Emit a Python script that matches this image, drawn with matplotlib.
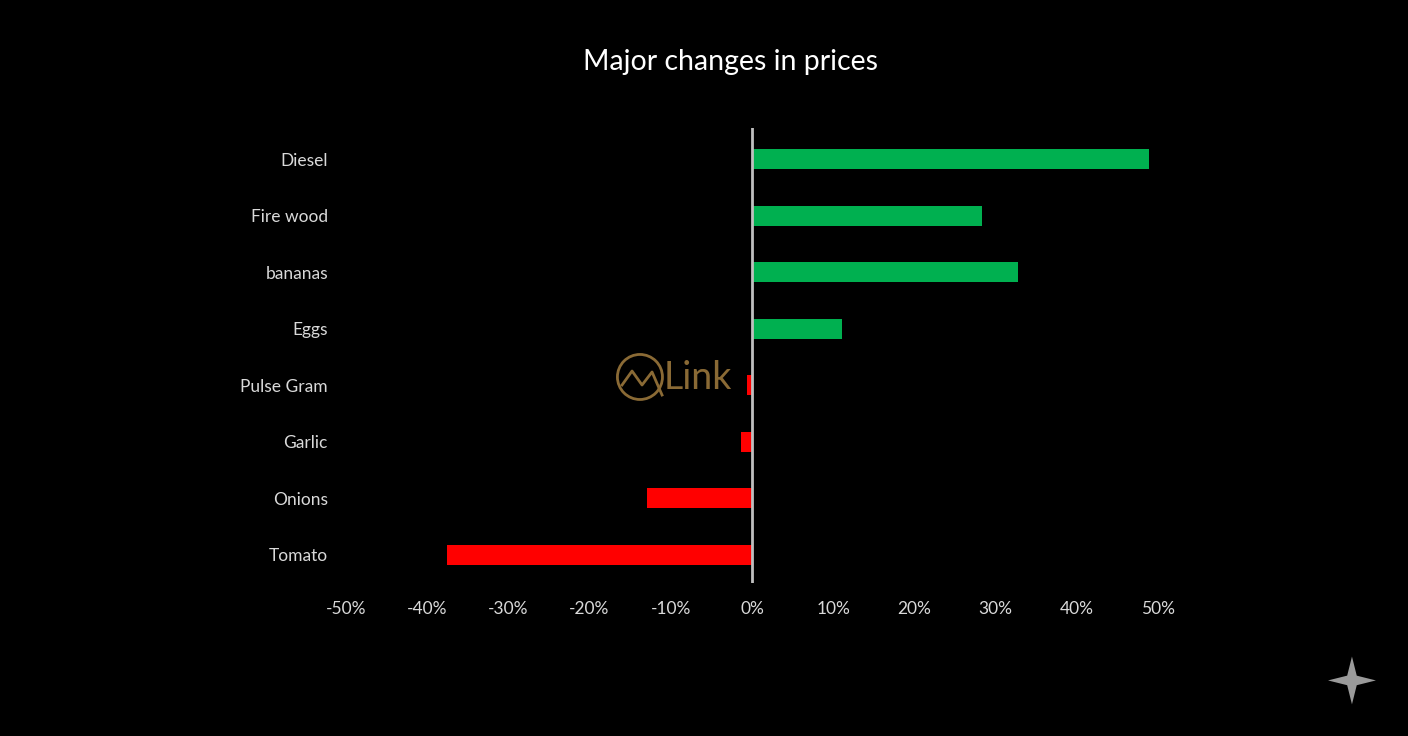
import matplotlib.pyplot as plt
from matplotlib.patches import Ellipse, Polygon
from matplotlib.ticker import FuncFormatter

plt.rcParams['font.family'] = ['Lato', 'DejaVu Sans']

items = ["Diesel", "Fire wood", "bananas", "Eggs", "Pulse Gram", "Garlic", "Onions", "Tomato"]
changes = [48.9, 28.3, 32.8, 11.1, -0.6, -1.4, -12.9, -37.6]
ticks = [-50, -40, -30, -20, -10, 0, 10, 20, 30, 40, 50]

green = "#00B050"
red = "#FF0000"
colors = [green if v > 0 else red for v in changes]

fig = plt.figure(figsize=(14.08, 7.36), dpi=100, facecolor="black")
ax = fig.add_axes([0.2457, 0.2079, 0.5767, 0.618])
ax.set_facecolor("black")

pos = list(range(len(items)))
ax.barh(pos, changes, height=0.36, color=colors)
ax.axvline(0, color="#BFBFBF", linewidth=2)

ax.set_xlim(-50, 50)
ax.set_ylim(len(items) - 0.5, -0.55)
ax.set_yticks(pos)
ax.set_yticklabels(items)
ax.set_xticks(ticks)
ax.xaxis.set_major_formatter(FuncFormatter(lambda v, p: "%d%%" % v))
ax.tick_params(axis="both", length=0, colors="#D9D9D9", labelsize=12.5)
ax.tick_params(axis="y", pad=13)
ax.tick_params(axis="x", pad=13)
for s in ax.spines.values():
    s.set_visible(False)

fig.text(0.519, 0.916, "Major changes in prices", color="white", fontsize=20.5,
         ha="center", va="center")

# watermark
gold = "#8A6A35"
fig.add_artist(Ellipse((0.4545, 0.4878), 0.032, 0.0612, transform=fig.transFigure,
                       fill=False, edgecolor=gold, linewidth=2))
fig.add_artist(plt.Line2D([0.4418, 0.4489, 0.4560, 0.4631, 0.4702],
                          [0.4769, 0.4959, 0.4769, 0.4946, 0.4633],
                          transform=fig.transFigure, color=gold, linewidth=2))
fig.text(0.4715, 0.487, "Link", color=gold, fontsize=27, ha="left", va="center")

# sparkle in the corner
cx, cy = 0.9602, 0.0755
sx, sy = 0.017, 0.0325
star = Polygon([(cx, cy + sy), (cx + sx * 0.2, cy + sy * 0.2), (cx + sx, cy),
                (cx + sx * 0.2, cy - sy * 0.2), (cx, cy - sy),
                (cx - sx * 0.2, cy - sy * 0.2), (cx - sx, cy),
                (cx - sx * 0.2, cy + sy * 0.2)],
               closed=True, transform=fig.transFigure, facecolor="#9A9A9A",
               edgecolor="none")
fig.add_artist(star)

fig.savefig("out.png", dpi=100, facecolor="black")
